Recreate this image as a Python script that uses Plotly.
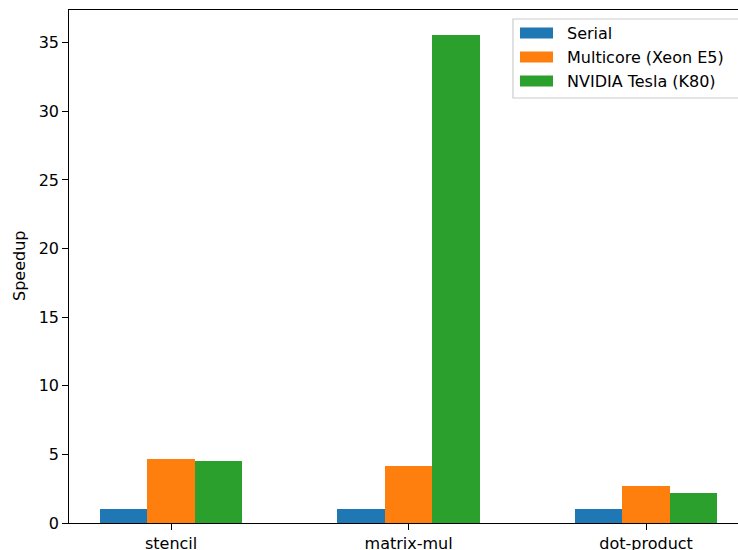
import plotly.graph_objects as go

categories = ["stencil", "matrix-mul", "dot-product"]
series_names = ["Serial", "Multicore (Xeon E5)", "NVIDIA Tesla (K80)"]
serial = [1.0, 1.0, 1.0]
multicore = [4.70, 4.19, 2.66]
gpu = [4.55, 35.58, 2.22]
colors = ["#1f77b4", "#ff7f0e", "#2ca02c"]
yticks = [0, 5, 10, 15, 20, 25, 30, 35]

W, H = 738, 550
L, R, T, B = 69, 0, 10, 27
PW, PH = W - L - R, H - T - B
bar_w = 0.2
x_idx = list(range(len(categories)))

fig = go.Figure()
for k, (name, vals) in enumerate(zip(series_names, [serial, multicore, gpu])):
    fig.add_trace(go.Bar(
        x=[i + (k - 1) * bar_w for i in x_idx], y=vals, width=bar_w,
        name=name, marker=dict(color=colors[k], line=dict(width=0)),
        showlegend=False))

font = dict(family="DejaVu Sans", size=16, color="#000000")
fig.update_layout(
    width=W, height=H, margin=dict(l=L, r=R, t=T, b=B, autoexpand=False),
    plot_bgcolor="white", paper_bgcolor="white", font=font,
    bargap=0, barmode="overlay",
    xaxis=dict(range=[-0.43, 2.387], tickvals=x_idx, ticktext=categories,
               ticks="outside", ticklen=5.6, tickcolor="black", tickwidth=1.3,
               showline=True, linecolor="black", linewidth=1.3, mirror=True,
               showgrid=False, zeroline=False, tickfont=font, automargin=False),
    yaxis=dict(range=[0, 37.38], tickvals=yticks,
               ticks="outside", ticklen=5.6, tickcolor="black", tickwidth=1.3,
               showline=True, linecolor="black", linewidth=1.3,
               showgrid=False, zeroline=False, tickfont=font, automargin=False),
)

def fx(x):
    return (x - L) / PW
def fy(y):
    return (H - B - y) / PH

# y-axis title
fig.add_annotation(xref="paper", yref="paper", x=fx(19), y=fy(266),
                   text="Speedup", textangle=-90, showarrow=False,
                   xanchor="center", yanchor="middle", font=font)

# legend box (manual, matplotlib-style)
fig.add_shape(type="rect", xref="paper", yref="paper",
              x0=fx(513), x1=fx(742), y0=fy(98), y1=fy(19),
              line=dict(color="#cccccc", width=1.2), fillcolor="rgba(255,255,255,0.8)")
for k, name in enumerate(series_names):
    yc = 33 + 24 * k
    fig.add_shape(type="rect", xref="paper", yref="paper",
                  x0=fx(520), x1=fx(553), y0=fy(yc + 5.5), y1=fy(yc - 5.5),
                  line=dict(width=0), fillcolor=colors[k])
    fig.add_annotation(xref="paper", yref="paper",
                       x=fx(565), y=fy(yc), xshift=0,
                       text=name, showarrow=False, xanchor="left", yanchor="middle",
                       font=font)

fig.write_html("out.html", config={"displayModeBar": False},
               post_script="document.body.style.margin='0';")
